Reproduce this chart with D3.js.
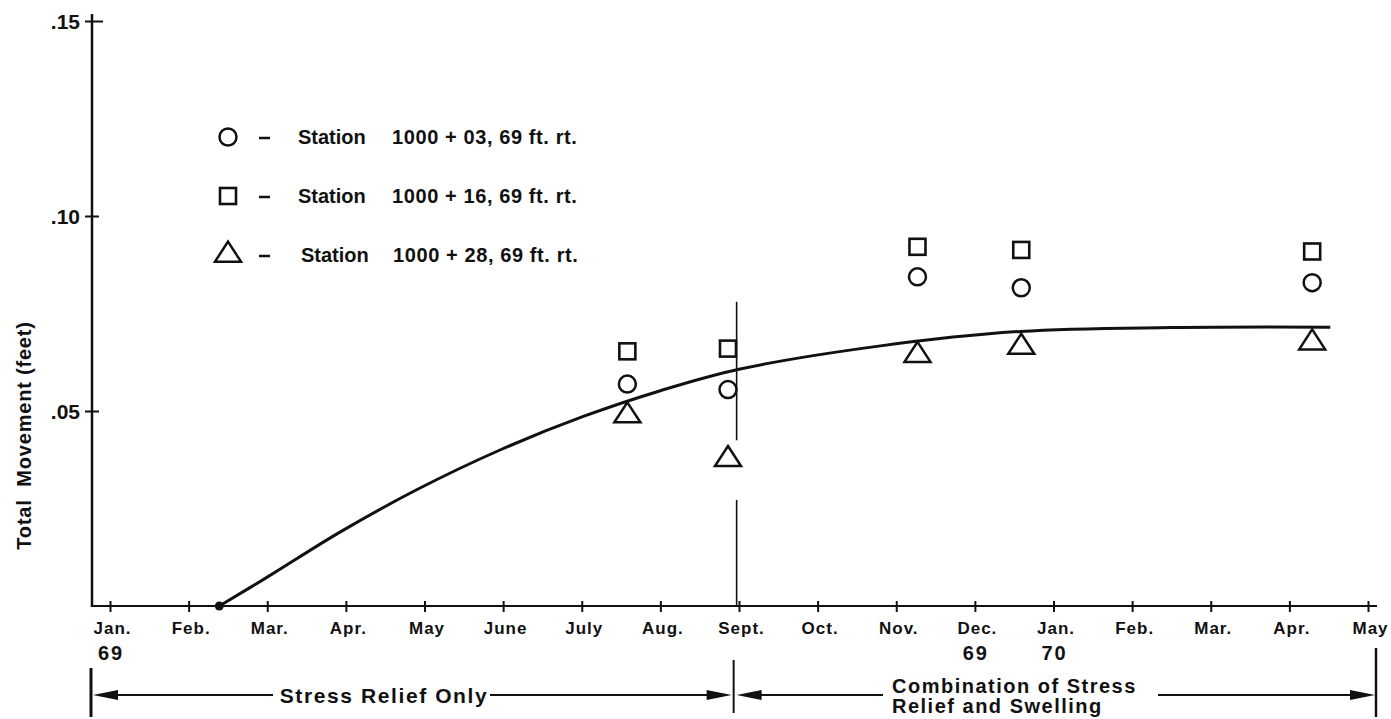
<!DOCTYPE html>
<html>
<head>
<meta charset="utf-8">
<script src="https://cdn.jsdelivr.net/npm/d3@7"></script>
<style>
  html, body { margin: 0; padding: 0; background: #fff; }
  svg { display: block; }
  text { font-family: "Liberation Sans", Arial, sans-serif; fill: #111; }
</style>
</head>
<body>
<svg id="chart" width="1391" height="719"></svg>
<script>
// Month labels along the time axis (Jan. 1969 through May 1970)
const monthLabels = ["Jan.", "Feb.", "Mar.", "Apr.", "May", "June", "July", "Aug.", "Sept.",
                     "Oct.", "Nov.", "Dec.", "Jan.", "Feb.", "Mar.", "Apr.", "May"];
// Year sub-labels: month index -> year
const yearLabels = [[0, "69"], [11, "69"], [12, "70"]];

// Y tick values (feet)
const yTicks = [0.05, 0.10, 0.15];

// Survey dates as fractional month index from Jan. 1969
const surveyMonths = [6.58, 7.86, 10.27, 11.59, 15.29];
// Total movement (feet) per station
const station03 = [0.0569, 0.0555, 0.0844, 0.0816, 0.0829];
const station16 = [0.0653, 0.0660, 0.0921, 0.0913, 0.0909];
const station28 = [0.0488, 0.0376, 0.0643, 0.0664, 0.0675];

// Fitted movement curve
const curveMonths = [1.39, 2.0, 2.93, 3.9, 4.96, 6.02, 7.0, 8.0, 9.8, 11.58, 13.5, 15.52];
const curveValues = [0, 0.0074, 0.019, 0.0298, 0.0400, 0.0486, 0.0552, 0.0607, 0.0667, 0.0704, 0.0714, 0.0715];

// Legend entries
const legendStations = ["1000 + 03, 69 ft. rt.", "1000 + 16, 69 ft. rt.", "1000 + 28, 69 ft. rt."];
const legendShapes = ["circle", "square", "triangle"];

// Month at which swelling begins to contribute
const divideMonth = 7.97;

const svg = d3.select("#chart");
const ink = "#111";

const x = d3.scaleLinear().domain([0, 16]).range([110, 1368]);
const y = d3.scaleLinear().domain([0, 0.15]).range([606, 21]);
const y0 = y(0);
const xAxisStart = 92;
const xAxisEnd = 1377;

// ---- axes ----
const gx = svg.append("g").attr("transform", `translate(0,${y0})`)
  .call(d3.axisBottom(x).tickValues(d3.range(17)).tickFormat(i => monthLabels[i]).tickSize(0));
gx.select(".domain").remove();
gx.selectAll(".tick line").attr("y1", -5).attr("y2", 6).attr("stroke", ink).attr("stroke-width", 2);
gx.selectAll(".tick text")
  .attr("y", 28).attr("dy", 0).attr("dx", 2)
  .style("font-size", "17px").style("font-weight", "bold").style("letter-spacing", "1px")
  .attr("fill", ink);

// year labels under selected months
svg.append("g").selectAll("text").data(yearLabels).join("text")
  .attr("x", d => x(d[0]) + 1).attr("y", y0 + 54)
  .attr("text-anchor", "middle")
  .style("font-size", "20px").style("letter-spacing", "2px").style("font-weight", "bold")
  .text(d => d[1]);

const gy = svg.append("g").attr("transform", `translate(${xAxisStart},0)`)
  .call(d3.axisLeft(y).tickValues(yTicks).tickSize(0)
    .tickFormat(d => d3.format(".2f")(d).replace(/^0/, "")));
gy.select(".domain").remove();
gy.selectAll(".tick line").attr("x1", -7).attr("x2", d => d === 0.15 ? 11 : 7)
  .attr("stroke", ink).attr("stroke-width", 2);
gy.selectAll(".tick text")
  .attr("x", -12).attr("dy", "0.35em")
  .style("font-size", "21px").style("font-weight", "bold")
  .attr("fill", ink);

// axis lines
svg.append("line").attr("x1", xAxisStart).attr("x2", xAxisStart)
  .attr("y1", y0 + 1).attr("y2", y(0.15) - 7)
  .attr("stroke", ink).attr("stroke-width", 2.5);
svg.append("line").attr("x1", xAxisStart - 1).attr("x2", xAxisEnd)
  .attr("y1", y0).attr("y2", y0)
  .attr("stroke", ink).attr("stroke-width", 2.2);

// y axis title
svg.append("text")
  .attr("transform", `translate(31,${(y(0) + y(0.15)) / 2 + 122}) rotate(-90)`)
  .attr("text-anchor", "middle")
  .style("font-size", "20px").style("font-weight", "bold").style("letter-spacing", "0.8px")
  .attr("xml:space", "preserve")
  .text("Total  Movement (feet)");

// ---- vertical marker at the divide ----
const xd = x(divideMonth);
svg.append("line").attr("x1", xd).attr("x2", xd).attr("y1", y(0.078)).attr("y2", y(0.0425))
  .attr("stroke", ink).attr("stroke-width", 1.6);
svg.append("line").attr("x1", xd).attr("x2", xd).attr("y1", y(0.0272)).attr("y2", y0)
  .attr("stroke", ink).attr("stroke-width", 1.6);

// ---- fitted curve ----
const pts = curveMonths.map((m, i) => [x(m), y(curveValues[i])]);
svg.append("path").attr("d", d3.line().curve(d3.curveCatmullRom.alpha(0.5))(pts))
  .attr("fill", "none").attr("stroke", ink).attr("stroke-width", 3);
svg.append("circle").attr("cx", x(curveMonths[0])).attr("cy", y(curveValues[0])).attr("r", 4.5)
  .attr("fill", ink);

// ---- markers ----
function drawMarker(g, shape, cx, cy) {
  if (shape === "circle") {
    g.append("circle").attr("cx", cx).attr("cy", cy).attr("r", 8.5)
      .attr("fill", "none").attr("stroke", ink).attr("stroke-width", 2.5);
  } else if (shape === "square") {
    g.append("rect").attr("x", cx - 8).attr("y", cy - 8).attr("width", 16).attr("height", 16)
      .attr("fill", "none").attr("stroke", ink).attr("stroke-width", 2.6);
  } else {
    const h = 20, w = 26;
    const p = d3.path();
    p.moveTo(cx, cy - 2 * h / 3);
    p.lineTo(cx + w / 2, cy + h / 3);
    p.lineTo(cx - w / 2, cy + h / 3);
    p.closePath();
    g.append("path").attr("d", p.toString())
      .attr("fill", "none").attr("stroke", ink).attr("stroke-width", 2.5).attr("stroke-linejoin", "miter");
  }
}
const gm = svg.append("g");
const seriesList = [["circle", station03], ["square", station16], ["triangle", station28]];
seriesList.forEach(([shape, vals]) => {
  vals.forEach((v, i) => drawMarker(gm, shape, x(surveyMonths[i]), y(v)));
});

// ---- legend ----
const legendY = [137, 196, 255];
const gl = svg.append("g");
legendShapes.forEach((shape, i) => {
  drawMarker(gl, shape, 228, legendY[i]);
  gl.append("line").attr("x1", 259).attr("x2", 270)
    .attr("y1", legendY[i] + 1).attr("y2", legendY[i] + 1)
    .attr("stroke", ink).attr("stroke-width", 2.5);
  gl.append("text").attr("x", i === 2 ? 301 : 298).attr("y", legendY[i] + 7)
    .style("font-size", "20px").style("font-weight", "bold")
    .text("Station");
  gl.append("text").attr("x", i === 2 ? 393 : 392).attr("y", legendY[i] + 7)
    .style("font-size", "20px").style("font-weight", "bold").style("letter-spacing", "0.6px")
    .attr("xml:space", "preserve")
    .text(legendStations[i]);
});

// ---- period annotation below the axis ----
const ga = svg.append("g");
const arrowY = 695;
const leftEnd = xAxisStart - 1, rightEnd = xAxisEnd - 1;
function arrowHead(tipX, dir) {
  const len = 25, half = 5;
  const p = d3.path();
  p.moveTo(tipX, arrowY);
  p.lineTo(tipX + dir * len, arrowY - half);
  p.lineTo(tipX + dir * len, arrowY + half);
  p.closePath();
  ga.append("path").attr("d", p.toString()).attr("fill", ink);
}
function hline(a, b) {
  ga.append("line").attr("x1", a).attr("x2", b).attr("y1", arrowY).attr("y2", arrowY)
    .attr("stroke", ink).attr("stroke-width", 2);
}
function vline(xx, a, b, w) {
  ga.append("line").attr("x1", xx).attr("x2", xx).attr("y1", a).attr("y2", b)
    .attr("stroke", ink).attr("stroke-width", w);
}
vline(leftEnd, 668, 717, 3);
vline(xd - 3, 660, 713, 2);
vline(rightEnd, 648, 717, 2.5);

arrowHead(leftEnd + 2, 1);
hline(leftEnd + 20, 273);
ga.append("text").attr("x", 384).attr("y", 703).attr("text-anchor", "middle")
  .style("font-size", "21px").style("letter-spacing", "1.6px").style("font-weight", "bold")
  .text("Stress Relief Only");
hline(490, xd - 20);
arrowHead(xd - 5, -1);

arrowHead(xd, 1);
hline(xd + 20, 883);
const comb = ga.append("text").attr("x", 892).attr("y", 693)
  .style("font-size", "20px").style("letter-spacing", "1.5px").style("font-weight", "bold");
comb.append("tspan").attr("x", 892).attr("y", 693).text("Combination of Stress");
comb.append("tspan").attr("x", 892).attr("y", 713).text("Relief and Swelling");
hline(1158, rightEnd - 20);
arrowHead(rightEnd - 1, -1);
</script>
</body>
</html>
